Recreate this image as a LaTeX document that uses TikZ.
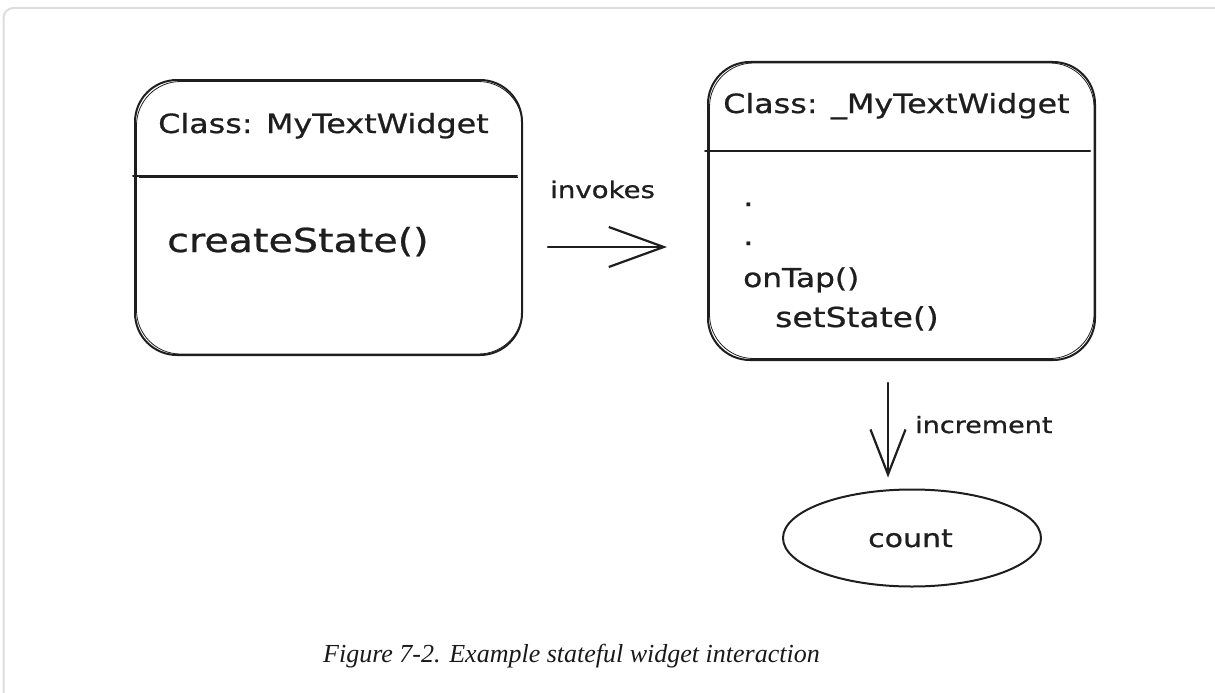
\documentclass[tikz,border=0pt]{standalone}
\usepackage{fontspec}
\setmainfont{Liberation Serif}
\newfontfamily\handfont[FakeStretch=1.2,FakeBold=0.8]{DejaVu Sans}
\usetikzlibrary{arrows.meta,shapes.geometric}
\definecolor{ink}{HTML}{1E1E1E}
\definecolor{framegray}{HTML}{DDDDDD}
\begin{document}
\begin{tikzpicture}[x=1pt,y=-1pt,
  classbox/.style={draw=ink, line width=2pt, rounded corners=42pt,
    minimum width=387pt, inner sep=0pt, outer sep=0pt},
  sketch/.style={ink, line width=0.8pt},
  divider/.style={ink, line width=2pt, line cap=round},
  hand/.style={font=\handfont\fontsize{#1}{#1}\selectfont, text=ink, inner sep=0pt},
  flow/.style={ink, line width=2.2pt, line cap=round, line join=round},
  caption/.style={font=\itshape\fontsize{26}{30}\selectfont, text=black!90, inner sep=0pt}
]
\useasboundingbox (0,0) rectangle (1215,693);

% page frame, open to the right and bottom
\begin{scope}
  \clip (0,0) rectangle (1215,693);
  \draw[framegray, line width=2pt, rounded corners=10pt] (3.5,8) rectangle (1240,720);
\end{scope}

% widget class
\node[classbox, minimum height=275pt] (lbox) at (328.5,217.5) {};
\draw[sketch, rounded corners=44pt] ([shift={(1.5pt,-1.5pt)}]lbox.north west) rectangle ([shift={(0.5pt,1pt)}]lbox.south east);
\coordinate (ldiv) at (0,176);
\draw[divider] ([xshift=-2pt]lbox.west |- ldiv) -- ([xshift=-5pt]lbox.east |- ldiv);
\draw[sketch] ([xshift=4pt, yshift=-1.5pt]lbox.west |- ldiv) -- ([xshift=-4pt, yshift=-1.5pt]lbox.east |- ldiv);
\node[hand=26.5, anchor=base west] (ltitle) at (158,133) {Class: MyTextWidget};
\node[hand=33, anchor=base west] (lcreate) at (167,252) {createState()};

% state class
\node[classbox, minimum height=298pt] (rbox) at (901.5,211) {};
\draw[sketch, rounded corners=44pt] ([shift={(1.5pt,-1pt)}]rbox.north west) rectangle ([shift={(-1pt,1.5pt)}]rbox.south east);
\coordinate (rdiv) at (0,151);
\draw[divider] ([xshift=-3pt]rbox.west |- rdiv) -- ([xshift=-5pt]rbox.east |- rdiv);
\node[hand=26.5, anchor=base west] (rtitle) at (723,113) {Class: \_MyTextWidget};
\node[hand=27, anchor=base west] (dotA) at (743,206) {.};
\node[hand=27, anchor=base west] (dotB) at (743,245) {.};
\node[hand=26, anchor=base west] (ontap) at (743,287) {onTap()};
\node[hand=27.5, anchor=base west] (setst) at (775,327) {setState()};

% state variable
\node[draw=ink, line width=2pt, ellipse, minimum width=258pt, minimum height=97pt,
  inner sep=0pt, outer sep=0pt] (cnt) at (912,538) {};
\node[hand=25, anchor=base] (cntlabel) at (910.5,547) {count};

% connectors
\coordinate (invy) at (0,247);
\draw[flow, shorten <=26pt, shorten >=41pt,
  -{Straight Barb[length=55pt, width=40pt]}] (lbox.east |- invy) -- (rbox.west |- invy);
\node[hand=23, anchor=base west] (invlabel) at (550,198) {invokes};

\coordinate (incx) at (888,0);
\draw[flow, shorten <=23pt, shorten >=12pt,
  -{Straight Barb[length=45pt, width=35pt]}] (rbox.south -| incx) -- (cnt.north -| incx);
\node[hand=22.5, anchor=base west] (inclabel) at (915,433) {increment};

% figure caption
\node[caption, anchor=base west] (cap) at (323,662) {Figure 7-2. Example stateful widget interaction};
\end{tikzpicture}
\end{document}
